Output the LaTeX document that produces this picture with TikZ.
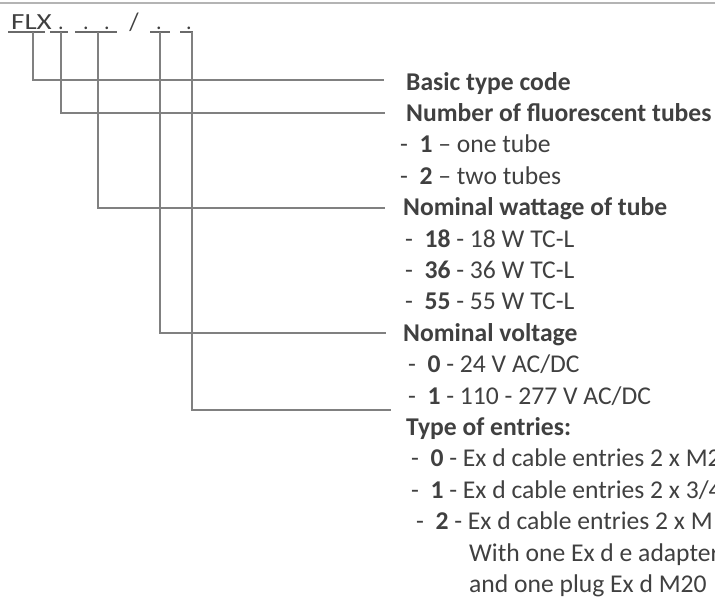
\documentclass[tikz,border=0pt]{standalone}
\usepackage{fontspec}
\setmainfont{Carlito}
\definecolor{txt}{HTML}{404040}
\definecolor{ln}{HTML}{808080}
\definecolor{uln}{HTML}{6A6A6A}
\definecolor{topln}{HTML}{B4B4B4}
\begin{document}
\begin{tikzpicture}[x=1pt,y=-1pt,
  conn/.style={draw=ln,line width=2.2pt},
  uline/.style={draw=uln,line width=2pt},
  item/.style={anchor=base west,inner sep=0pt,text=txt,font=\fontsize{25.6}{30}\selectfont},
  head/.style={item,font=\fontsize{25.6}{30}\selectfont\bfseries},
  code/.style={anchor=base,inner sep=0pt,text=txt,font=\fontsize{22}{26}\selectfont}]
\useasboundingbox (0,0) rectangle (715,597);
\clip (0,0) rectangle (715,597);
% top rule
\draw[draw=topln,line width=1.8pt] (0,3) -- (715,3);
% code
\node[code,anchor=base west] (flx) at (11,29) {\scalebox{1.32}[1.05]{FLX}};
\node[code] (d1) at (61,29) {.};
\node[code] (d2) at (86,29) {.};
\node[code] (d3) at (107,29) {.};
\node[code] (sl) at (134,30) {\scalebox{1.1}[1.15]{/}};
\node[code] (d4) at (159,29) {.};
\node[code] (d5) at (189,29) {.};
% underlines
\draw[uline] (8,32) -- (45,32);
\draw[uline] (50,32) -- (68,32);
\draw[uline] (75,32) -- (117,32);
\draw[uline] (150,32) -- (170,32);
\draw[uline] (180,32) -- (193,32);
% anchor points
\coordinate (u1) at (33,32);
\coordinate (u2) at (61,32);
\coordinate (u3) at (98,32);
\coordinate (u4) at (160,32);
\coordinate (u5) at (192,32);
\coordinate (e1) at (384,80);
\coordinate (e2) at (385,113);
\coordinate (e3) at (385,208);
\coordinate (e4) at (386,333);
\coordinate (e5) at (391,410);
% texts
\node[head] (t0) at (406,90) {Basic type code};
\node[head] (t1) at (406,121.4) {Number of fluorescent tubes};
\node[item] (t2) at (400,152.8) {-~~\textbf{1} – one tube};
\node[item] (t3) at (400,184.2) {-~~\textbf{2} – two tubes};
\node[head] (t4) at (403,215.6) {Nominal wattage of tube};
\node[item] (t5) at (405,247) {-~~\textbf{18} - 18 W TC-L};
\node[item] (t6) at (405,278.4) {-~~\textbf{36} - 36 W TC-L};
\node[item] (t7) at (405,309.8) {-~~\textbf{55} - 55 W TC-L};
\node[head] (t8) at (403,341.2) {Nominal voltage};
\node[item] (t9) at (408,372.6) {-~~\textbf{0} - 24 V AC/DC};
\node[item] (t10) at (408,404) {-~~\textbf{1} - 110 - 277 V AC/DC};
\node[head] (t11) at (406,435.4) {Type of entries:};
\node[item] (t12) at (411,466.8) {-~~\textbf{0} - Ex d cable entries 2 x M2};
\node[item] (t13) at (411,498.2) {-~~\textbf{1} - Ex d cable entries 2 x 3/4};
\node[item] (t14) at (416,529.6) {-~~\textbf{2} - Ex d cable entries 2 x M};
\node[item] (t15) at (469,561) {With one Ex d e adapter};
\node[item] (t16) at (469,592.4) {and one plug Ex d M20};
% connectors
\draw[conn] (u1) |- (e1);
\draw[conn] (u2) |- (e2);
\draw[conn] (u3) |- (e3);
\draw[conn] (u4) |- (e4);
\draw[conn] (u5) |- (e5);
\end{tikzpicture}
\end{document}
